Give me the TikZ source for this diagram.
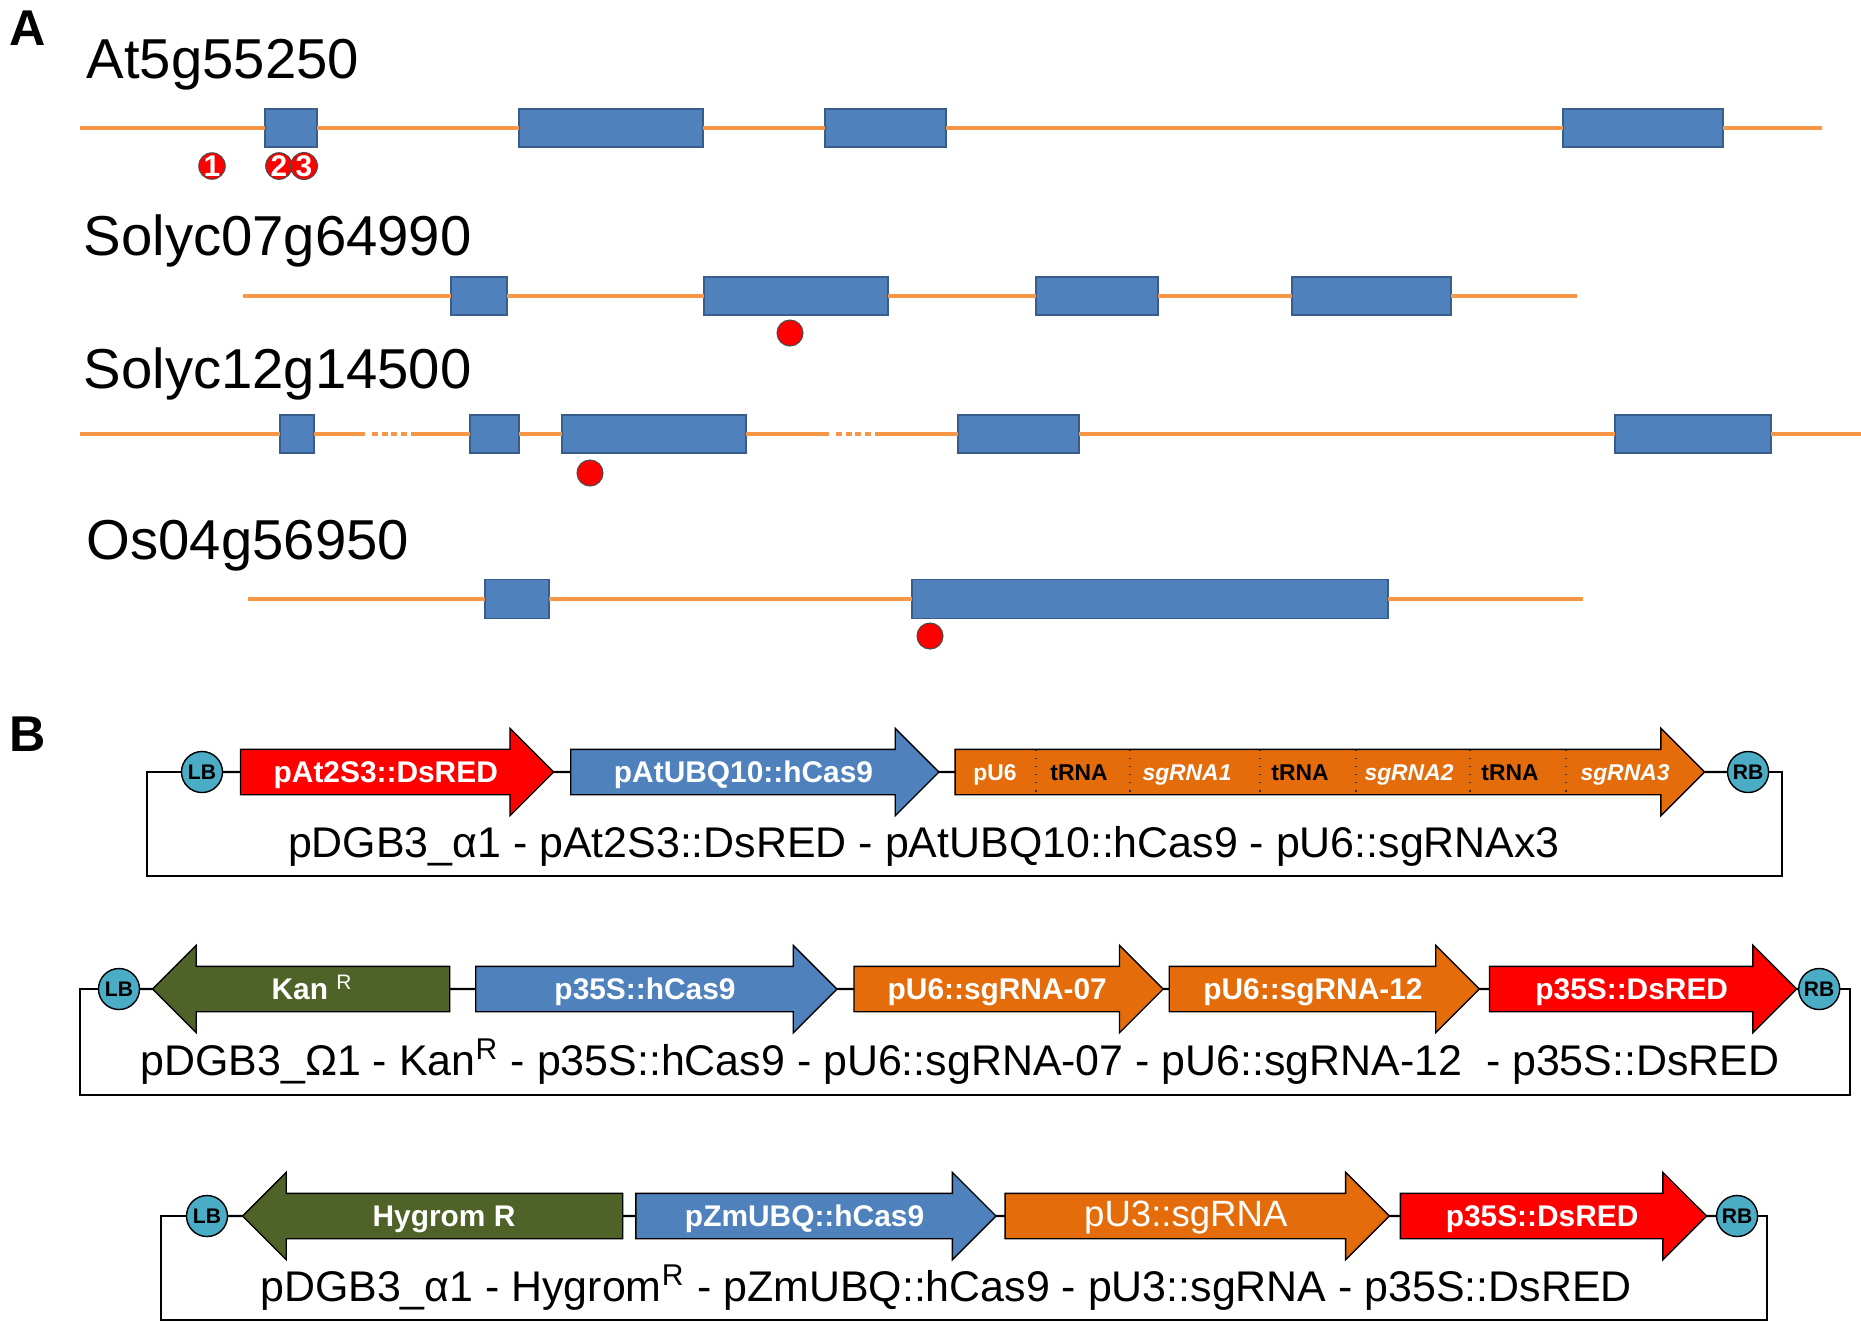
\documentclass[tikz,border=0pt]{standalone}
\usepackage{fontspec}
\setmainfont{Liberation Sans}
\usetikzlibrary{positioning, shapes.arrows, calc}
\definecolor{intronOrange}{HTML}{F79646}
\definecolor{exonBlue}{HTML}{4F81BD}
\definecolor{exonEdge}{HTML}{385D8A}
\definecolor{guideOrange}{HTML}{E46C0A}
\definecolor{markerGreen}{HTML}{4F6228}
\definecolor{borderTeal}{HTML}{4BACC6}
\tikzset{
  intron/.style = {
    draw=intronOrange,
    line width=0.04cm,
  },
  intronGap/.style = {
    intron,
    dash pattern=on 0.06cm off 0.035cm,
    shorten <=0.07cm,
    shorten >=0.02cm,
  },
  exon/.style = {
    rectangle,
    draw=exonEdge,
    fill=exonBlue,
    line width=0.4pt,
    inner sep=0pt,
    outer sep=0pt,
    minimum height=0.38cm,
  },
  cutSite/.style = {
    circle,
    draw=black!70,
    fill=red,
    line width=0.3pt,
    inner sep=0pt,
    minimum size=0.26cm,
    text=white,
    font=\fontsize{8.5}{8.5}\selectfont\bfseries,
  },
  geneName/.style = {
    anchor=base west,
    inner sep=0pt,
    font=\fontsize{16}{19}\selectfont,
  },
  panelLabel/.style = {
    anchor=base west,
    inner sep=0pt,
    font=\fontsize{14.3}{17}\selectfont\bfseries,
  },
  cassette/.style = {
    single arrow,
    draw=black,
    line width=0.4pt,
    single arrow head extend=0.21cm,
    inner ysep=0pt,
    outer sep=0pt,
    text height=0.325cm,
    text depth=0.115cm,
    text=white,
    font=\fontsize{8.5}{10}\selectfont\bfseries,
  },
  dsred/.style = {cassette, fill=red},
  cas9/.style = {cassette, fill=exonBlue},
  guide/.style = {cassette, fill=guideOrange},
  marker/.style = {cassette, fill=markerGreen, shape border rotate=180},
  borderSite/.style = {
    circle,
    draw=black,
    fill=borderTeal,
    line width=0.4pt,
    inner sep=0pt,
    outer sep=0pt,
    minimum size=0.41cm,
    font=\fontsize{6}{6}\selectfont\bfseries,
  },
  backbone/.style = {
    draw=black,
    line width=0.6pt,
  },
  vectorName/.style = {
    anchor=base,
    inner sep=0pt,
    font=\fontsize{12.2}{14}\selectfont,
  },
}

\begin{document}
\begin{tikzpicture}[
  x=0.01cm,
  y=-0.01cm,
  slotLine/.style = {
    draw=black!80,
    line width=0.3pt,
    dotted,
  },
  slotLabel/.style = {
    anchor=base,
    inner sep=0pt,
    font=\fontsize{6.5}{7}\selectfont\bfseries,
  },
]
\useasboundingbox (0,0) rectangle (1861,1323);

\node[panelLabel] (labelA) at (9,45) {A};

\node[geneName] (nameAt) at (86,78) {At5g55250};
\coordinate (atStart) at (80,128);
\coordinate (atEnd) at (1822,128);
\node[exon, minimum width=0.52cm] (atEx1) at (291,128) {};
\node[exon, minimum width=1.84cm] (atEx2) at (611,128) {};
\node[exon, minimum width=1.21cm] (atEx3) at (885.5,128) {};
\node[exon, minimum width=1.60cm] (atEx4) at (1643,128) {};
\draw[intron] (atStart) -- (atEx1) -- (atEx2) -- (atEx3) -- (atEx4) -- (atEnd);
\node[cutSite] (atCut1) at (212,166) {1};
\node[cutSite] (atCut2) at (279,166) {2};
\node[cutSite] (atCut3) at (304,166) {3};

\node[geneName] (nameSl7) at (83,255) {Solyc07g64990};
\coordinate (slSevenStart) at (243,296);
\coordinate (slSevenEnd) at (1577,296);
\node[exon, minimum width=0.56cm] (slSevenEx1) at (479,296) {};
\node[exon, minimum width=1.84cm] (slSevenEx2) at (796,296) {};
\node[exon, minimum width=1.22cm] (slSevenEx3) at (1097,296) {};
\node[exon, minimum width=1.59cm] (slSevenEx4) at (1371.5,296) {};
\draw[intron] (slSevenStart) -- (slSevenEx1) -- (slSevenEx2) -- (slSevenEx3) -- (slSevenEx4) -- (slSevenEnd);
\node[cutSite] (slSevenCut) at (790,333) {};

\node[geneName] (nameSl12) at (83,388) {Solyc12g14500};
\coordinate (slTwelveStart) at (80,434);
\coordinate (slTwelveGapA) at (365,434);
\coordinate (slTwelveGapB) at (411,434);
\coordinate (slTwelveGapC) at (829,434);
\coordinate (slTwelveGapD) at (875,434);
\coordinate (slTwelveEnd) at (1861,434);
\node[exon, minimum width=0.34cm] (slTwelveEx1) at (297,434) {};
\node[exon, minimum width=0.49cm] (slTwelveEx2) at (494.5,434) {};
\node[exon, minimum width=1.84cm] (slTwelveEx3) at (654,434) {};
\node[exon, minimum width=1.21cm] (slTwelveEx4) at (1018.5,434) {};
\node[exon, minimum width=1.56cm] (slTwelveEx5) at (1693,434) {};
\draw[intron] (slTwelveStart) -- (slTwelveEx1) -- (slTwelveGapA)
  (slTwelveGapB) -- (slTwelveEx2) -- (slTwelveEx3) -- (slTwelveGapC)
  (slTwelveGapD) -- (slTwelveEx4) -- (slTwelveEx5) -- (slTwelveEnd);
\draw[intronGap] (slTwelveGapA) -- (slTwelveGapB);
\draw[intronGap] (slTwelveGapC) -- (slTwelveGapD);
\node[cutSite] (slTwelveCut) at (590,473) {};

\node[geneName] (nameOs) at (86,559) {Os04g56950};
\coordinate (osStart) at (248,599);
\coordinate (osEnd) at (1583,599);
\node[exon, minimum width=0.64cm, minimum height=0.39cm] (osEx1) at (517,599) {};
\node[exon, minimum width=4.76cm, minimum height=0.39cm] (osEx2) at (1150,599) {};
\draw[intron] (osStart) -- (osEx1) -- (osEx2) -- (osEnd);
\node[cutSite] (osCut) at (930,636) {};

\node[panelLabel] (labelB) at (9,751) {B};

\node[borderSite] (lb1) at (202,772) {LB};
\node[dsred, minimum height=3.13cm, right=0.18cm of lb1] (dsred1) {pAt2S3::DsRED};
\node[cas9, minimum height=3.68cm, right=0.17cm of dsred1] (cas1) {pAtUBQ10::hCas9};
\node[guide, minimum height=7.49cm, right=0.16cm of cas1] (guides1) {};
\node[borderSite, right=0.23cm of guides1] (rb1) {RB};
\draw[slotLine] (1036,750) -- (1036,794) (1130,750) -- (1130,794)
  (1260,750) -- (1260,794) (1356,750) -- (1356,794)
  (1470,750) -- (1470,794) (1566,750) -- (1566,794);
\node[slotLabel, text=white] (slotPU6) at (995,780) {pU6};
\node[slotLabel] (slotTRNA1) at (1079,780) {tRNA};
\node[slotLabel, text=white] (slotSg1) at (1187,780) {\itshape sgRNA1};
\node[slotLabel] (slotTRNA2) at (1300,780) {tRNA};
\node[slotLabel, text=white] (slotSg2) at (1409,780) {\itshape sgRNA2};
\node[slotLabel] (slotTRNA3) at (1510,780) {tRNA};
\node[slotLabel, text=white] (slotSg3) at (1625,780) {\itshape sgRNA3};
\coordinate (boxOneLeft) at (147,876);
\coordinate (boxOneRight) at (1782,876);
\draw[backbone] (lb1) -- (dsred1) -- (cas1) -- (guides1) -- (rb1);
\draw[backbone] (lb1.west) -| (boxOneLeft) -- (boxOneRight) |- (rb1.east);
\node[vectorName] (vec1) at (924,857) {pDGB3\_α1 - pAt2S3::DsRED - pAtUBQ10::hCas9 - pU6::sgRNAx3};

\node[borderSite] (lb2) at (119,989) {LB};
\node[marker, minimum height=2.97cm, right=0.13cm of lb2] (kan2) {Kan \textsuperscript{\mdseries R}};
\node[cas9, minimum height=3.61cm, right=0.26cm of kan2] (cas2) {p35S::hCas9};
\node[guide, minimum height=3.09cm, right=0.17cm of cas2] (sg07) {pU6::sgRNA-07};
\node[guide, minimum height=3.10cm, right=0.06cm of sg07] (sg12) {pU6::sgRNA-12};
\node[dsred, minimum height=3.07cm, right=0.10cm of sg12] (dsred2) {p35S::DsRED};
\node[borderSite, right=0.02cm of dsred2] (rb2) {RB};
\coordinate (boxTwoLeft) at (80,1095);
\coordinate (boxTwoRight) at (1850,1095);
\draw[backbone] (lb2) -- (kan2) -- (cas2) -- (sg07) -- (sg12) -- (dsred2) -- (rb2);
\draw[backbone] (lb2.west) -| (boxTwoLeft) -- (boxTwoRight) |- (rb2.east);
\node[vectorName] (vec2) at (960,1075) {pDGB3\_Ω1 - Kan\textsuperscript{R} - p35S::hCas9 - pU6::sgRNA-07 - pU6::sgRNA-12\ \ - p35S::DsRED};

\node[borderSite] (lb3) at (207,1216) {LB};
\node[marker, minimum height=3.80cm, right=0.15cm of lb3] (hyg3) {Hygrom R};
\node[cas9, minimum height=3.60cm, right=0.13cm of hyg3] (cas3) {pZmUBQ::hCas9};
\node[guide, minimum height=3.84cm, right=0.09cm of cas3, font=\fontsize{10.4}{12}\selectfont] (sg3) {pU3::sgRNA};
\node[dsred, minimum height=3.06cm, right=0.11cm of sg3] (dsred3) {p35S::DsRED};
\node[borderSite, right=0.10cm of dsred3] (rb3) {RB};
\coordinate (boxThreeLeft) at (161,1320);
\coordinate (boxThreeRight) at (1767,1320);
\draw[backbone] (lb3) -- (hyg3) -- (cas3) -- (sg3) -- (dsred3) -- (rb3);
\draw[backbone] (lb3.west) -| (boxThreeLeft) -- (boxThreeRight) |- (rb3.east);
\node[vectorName] (vec3) at (946,1301) {pDGB3\_α1 - Hygrom\textsuperscript{R} - pZmUBQ::hCas9 - pU3::sgRNA - p35S::DsRED};

\end{tikzpicture}
\end{document}
